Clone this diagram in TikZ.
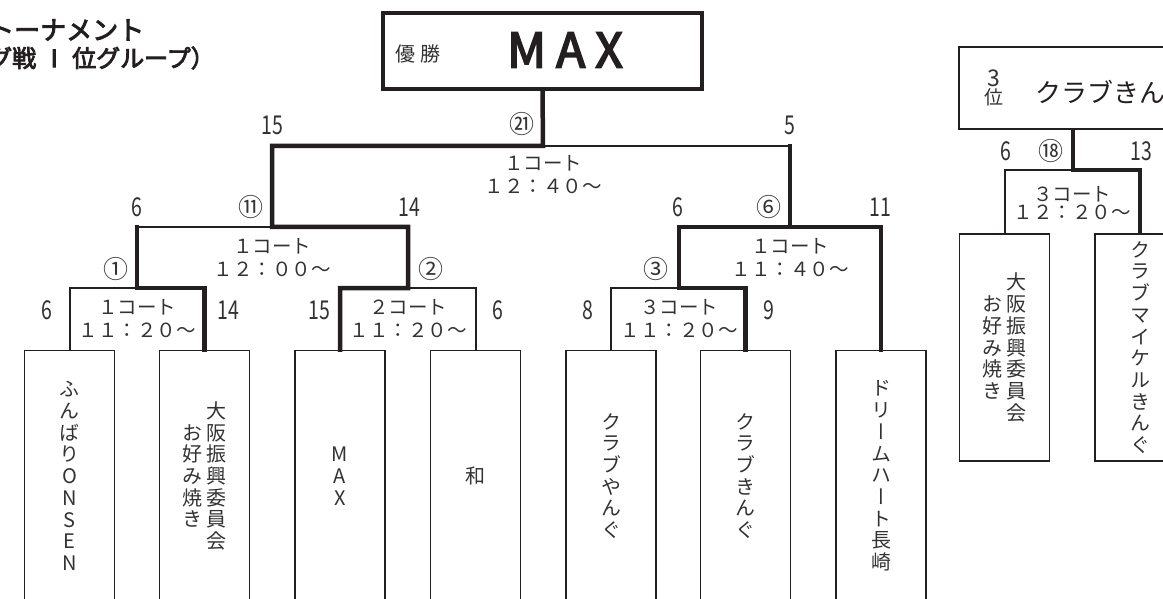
\documentclass[tikz,border=0pt]{standalone}
\usepackage{fontspec}
\setmainfont{Noto Sans CJK JP}
\newfontfamily\tatefont{Noto Sans CJK JP}[RawFeature=+vert]
\newfontfamily\numfont{Noto Sans CJK JP}[FakeStretch=0.75]
\newfontfamily\heavyfont{Noto Sans CJK JP}[FakeBold=3.5]
\definecolor{linegray}{RGB}{35,31,32}
\definecolor{txtgray}{RGB}{50,50,50}
\newcommand\tate[1]{$\vcenter{\baselineskip=21.7pt\lineskiplimit=-\maxdimen\tateloop#1\relax}$}
\newcommand\tateloop[1]{\ifx\relax#1\else\hbox to 1em{\hss#1\hss}\expandafter\tateloop\fi}

\begin{document}
\begin{tikzpicture}[
        x=1pt, y=-1pt,
        team/.style = {draw=linegray, line width=1.8pt, minimum width=90pt, minimum height=251pt, inner sep=0pt, text=txtgray, font=\tatefont\fontsize{20}{22}\selectfont},
        court/.style = {align=center, inner sep=0pt, text=txtgray, font=\fontsize{19.5}{23}\selectfont},
        score/.style = {inner sep=0pt, text=txtgray, font=\numfont\fontsize{26}{26}\selectfont},
        matchno/.style = {inner sep=0pt, text=txtgray, font=\fontsize{25}{25}\selectfont},
        lose/.style = {draw=linegray, line width=2pt, line cap=rect},
        win/.style = {draw=linegray, line width=4.5pt, line cap=rect}
    ]
 \useasboundingbox (0,0) rectangle (1163,599);
 \clip (0,0) rectangle (1163,599);

 \node[anchor=west, inner sep=0pt, text=linegray, font=\heavyfont\fontsize{26}{26}\selectfont] (title1) at (-12,30) {トーナメント};
 \node[anchor=west, inner sep=0pt, text=linegray, font=\heavyfont\fontsize{24}{24}\selectfont] (title2) at (-12,58) {グ戦\makebox[1.5em]{Ⅰ}位グループ）};

 \node[draw=linegray, line width=3.3pt, minimum width=319pt, minimum height=76pt] (champ) at (542.5,51) {};
 \node[inner sep=0pt, text=txtgray, font=\fontsize{20}{20}\selectfont] (champlbl) at (418,54) {優 勝};
 \node[inner sep=0pt, text=linegray, font=\heavyfont\fontsize{48}{48}\selectfont] (champname) at (565,50) {M\hspace{10pt}A\hspace{10pt}X};

 \node[draw=linegray, line width=2pt, minimum width=228pt, minimum height=82pt] (third) at (1073,88) {};
 \node[align=center, inner sep=0pt, text=txtgray, font=\fontsize{19}{18}\selectfont] (thirdlbl) at (994,88) {{\fontsize{23}{18}\selectfont 3}\\位};
 \node[anchor=west, inner sep=0pt, text=linegray, font=\fontsize{26}{26}\selectfont] (thirdname) at (1035,92) {クラブきんぐ};

 \node[team] (t1) at (69.5,476) {\tate{ふんばりONSEN}};
 \node[team] (t2) at (204.5,476) {\tate{お好み焼き}\hspace{4pt}\tate{大阪振興委員会}};
 \node[team] (t3) at (340,476) {\tate{MAX}};
 \node[team] (t4) at (475.5,476) {\tate{和}};
 \node[team] (t5) at (611,476) {\tate{クラブやんぐ}};
 \node[team] (t6) at (745.5,476) {\tate{クラブきんぐ}};
 \node[team] (t7) at (881,476) {\tate{ドリームハート長崎}};
 \node[team, minimum height=227pt] (s1) at (1004.5,347.5) {\tate{お好み焼き}\hspace{4pt}\tate{大阪振興委員会}};
 \node[team, minimum height=227pt] (s2) at (1140,347.5) {\tate{クラブマイケルきんぐ}};

 \coordinate (m1) at (137,288);
 \coordinate (m2) at (408,288);
 \coordinate (m3) at (679,288);
 \coordinate (m11) at (272,227);
 \coordinate (m6) at (790,227);
 \coordinate (mf) at (543,146);
 \coordinate (m18) at (1073,170);

 \draw[lose] (t1.north) |- (m1);
 \draw[lose] (t4.north) |- (m2);
 \draw[lose] (t5.north) |- (m3);
 \draw[lose] (m1 |- m11) -- (m11);
 \draw[lose] (m6 |- mf) -- (mf);
 \draw[lose] (s1.north) |- (m18);
 \draw[win] (t3.north) |- (m2) |- (m11) |- (mf) -- (champ.south);
 \draw[win] (t2.north) |- (m1) -- (m1 |- m11);
 \draw[win] (t6.north) |- (m3) |- (m6) -- (m6 |- mf);
 \draw[win] (t7.north) |- (m6);
 \draw[win] (s2.north) |- (m18) -- (third.south);

 \node[court] (c1) at (137,319) {１コート\\１１：２０～};
 \node[court] (c2) at (408,319) {２コート\\１１：２０～};
 \node[court] (c3) at (679,319) {３コート\\１１：２０～};
 \node[court] (c11) at (272,258) {１コート\\１２：００～};
 \node[court] (c6) at (790,258) {１コート\\１１：４０～};
 \node[court] (cf) at (543,175) {１コート\\１２：４０～};
 \node[court, font=\fontsize{19.5}{18}\selectfont] (c18) at (1072,203) {３コート\\１２：２０～};

 \node[score] (p1a) at (47,310) {6};
 \node[score] (p1b) at (228,310) {14};
 \node[score] (p2a) at (319,310) {15};
 \node[score] (p2b) at (498,310) {6};
 \node[score] (p3a) at (588,310) {8};
 \node[score] (p3b) at (769,310) {9};
 \node[score] (p11a) at (137,207) {6};
 \node[score] (p11b) at (409,207) {14};
 \node[score] (p6a) at (678,207) {6};
 \node[score] (p6b) at (880,207) {11};
 \node[score] (pfa) at (272,125) {15};
 \node[score] (pfb) at (790,125) {5};
 \node[score] (p18a) at (1006,151) {6};
 \node[score] (p18b) at (1141,151) {13};

 \node[matchno] (n1) at (116,269) {①};
 \node[matchno] (n2) at (431,269) {②};
 \node[matchno] (n3) at (656,269) {③};
 \node[matchno] (n11) at (251,207) {⑪};
 \node[matchno] (n6) at (769,207) {⑥};
 \node[matchno] (nf) at (522,124) {㉑};
 \node[matchno] (n18) at (1051,151) {⑱};
\end{tikzpicture}
\end{document}
